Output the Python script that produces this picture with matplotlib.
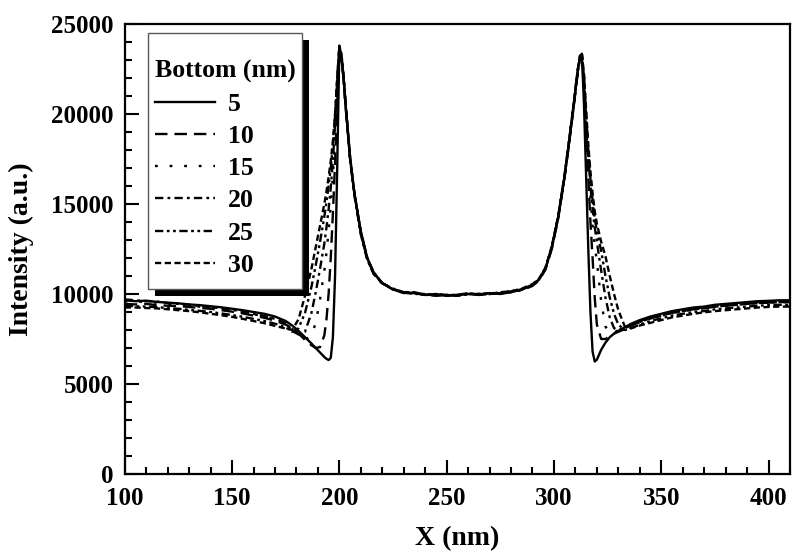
import matplotlib
matplotlib.use('Agg')
import matplotlib.pyplot as plt
from matplotlib.ticker import MultipleLocator
from matplotlib.patches import Rectangle

plt.rcParams['font.family'] = ['Liberation Serif', 'DejaVu Serif']
plt.rcParams['font.weight'] = 'bold'
plt.rcParams['axes.labelweight'] = 'bold'
plt.rcParams['lines.scale_dashes'] = False

# scan position (nm), shared by all profiles
x = [100, 105, 110, 115, 120, 125, 130, 135, 140, 145, 150, 155, 160, 165, 170, 175,
     178, 181, 184, 187, 189, 191, 193,
     194, 195, 196, 197, 198, 199, 200, 201, 202, 203,
     205, 207, 210, 213, 216, 220,
     225, 230, 235, 240, 245, 250, 255, 260, 265, 270, 275, 280, 285, 290,
     293, 296, 299, 302, 305, 307, 309, 311,
     312, 313, 314, 315, 316, 317, 318, 319, 320,
     322, 324, 326, 328, 330, 333, 336, 340,
     345, 350, 355, 360, 365, 370, 375, 380, 385, 390, 395, 400, 405, 410]

# intensity profiles for each bottom width
b5 = [9650, 9600, 9630, 9560, 9520, 9480, 9420, 9380, 9320, 9260, 9180, 9100, 9000, 8900, 8750, 8500,
      8250, 7950, 7600, 7250, 7000, 6750, 6500,
      6400, 6330, 6450, 7600, 11000, 17000, 23600, 23000, 22000, 20400,
      17600, 15600, 13500, 12000, 11200, 10600,
      10250, 10100, 10050, 9950, 10000, 9900, 9950, 10000, 9950, 10050, 10000, 10100, 10250, 10500,
      10800, 11400, 12600, 14300, 16600, 18400, 20300, 22300,
      23100, 23350, 20500, 16500, 12500, 9000, 6800, 6250, 6350,
      6900, 7300, 7600, 7800, 7950, 8150, 8350, 8550,
      8750, 8900, 9050, 9150, 9250, 9300, 9400, 9450, 9500, 9550, 9600, 9620, 9650, 9650]
b10 = [9450, 9420, 9450, 9380, 9350, 9330, 9280, 9220, 9180, 9100, 9020, 8920, 8800, 8680, 8520, 8300,
       8100, 7800, 7450, 7150, 7000, 7050, 7700,
       8600, 10000, 12000, 14500, 17300, 20500, 23600, 23100, 21900, 20300,
       17500, 15600, 13400, 11950, 11150, 10600,
       10300, 10050, 10100, 9950, 9900, 9950, 9900, 10050, 9950, 10000, 10050, 10150, 10200, 10450,
       10750, 11350, 12500, 14200, 16500, 18300, 20200, 22200,
       23000, 23300, 21500, 19000, 16500, 14000, 12000, 9800, 8300,
       7500, 7500, 7650, 7800, 7900, 8050, 8250, 8450,
       8650, 8800, 8950, 9050, 9150, 9200, 9300, 9350, 9400, 9450, 9500, 9520, 9550, 9550]
b15 = [9600, 9580, 9560, 9520, 9450, 9430, 9350, 9300, 9250, 9180, 9080, 8980, 8880, 8750, 8600, 8350,
       8050, 7750, 7450, 7700, 8400, 9700, 11300,
       12300, 13500, 14900, 16600, 18800, 21500, 23800, 23200, 21900, 20300,
       17600, 15500, 13400, 11900, 11150, 10550,
       10250, 10150, 10000, 10000, 9950, 9900, 10000, 9950, 10000, 10000, 10050, 10100, 10250, 10500,
       10800, 11450, 12600, 14300, 16600, 18500, 20400, 22400,
       23200, 23350, 21800, 19500, 17300, 15400, 13800, 12700, 11800,
       9600, 8200, 7800, 7850, 8000, 8150, 8300, 8500,
       8700, 8850, 9000, 9100, 9200, 9250, 9350, 9400, 9450, 9500, 9550, 9570, 9600, 9600]
b20 = [9700, 9650, 9600, 9580, 9500, 9450, 9400, 9330, 9280, 9200, 9120, 9020, 8900, 8780, 8620, 8400,
       7950, 7750, 7900, 8950, 10100, 11400, 12800,
       13700, 14700, 15900, 17400, 19400, 21800, 23700, 23300, 22000, 20400,
       17500, 15500, 13300, 11900, 11100, 10600,
       10250, 10100, 10050, 9950, 10000, 9950, 9950, 10050, 9950, 10000, 10050, 10100, 10250, 10500,
       10800, 11400, 12550, 14250, 16550, 18400, 20300, 22300,
       23100, 23300, 22000, 19800, 17700, 16000, 14700, 13700, 12900,
       11300, 9800, 8700, 8100, 8000, 8100, 8250, 8450,
       8650, 8800, 8950, 9050, 9150, 9200, 9300, 9350, 9400, 9450, 9500, 9520, 9550, 9550]
b25 = [9350, 9320, 9300, 9270, 9220, 9180, 9120, 9060, 9000, 8920, 8830, 8730, 8620, 8500, 8350, 8150,
       7900, 8100, 8950, 10400, 11600, 12900, 14300,
       15100, 16000, 17000, 18300, 19900, 22000, 23700, 23300, 22000, 20400,
       17500, 15600, 13400, 12000, 11200, 10600,
       10300, 10100, 10000, 10000, 9950, 9950, 9900, 10000, 10000, 10000, 10100, 10150, 10250, 10500,
       10800, 11400, 12600, 14300, 16600, 18400, 20300, 22300,
       23100, 23300, 22100, 20000, 18000, 16400, 15200, 14200, 13500,
       12400, 11000, 9800, 8900, 8300, 8000, 8100, 8300,
       8500, 8650, 8800, 8900, 9000, 9050, 9150, 9200, 9250, 9300, 9350, 9380, 9400, 9400]
b30 = [9250, 9250, 9220, 9200, 9150, 9100, 9050, 8980, 8900, 8820, 8730, 8620, 8500, 8380, 8230, 8080,
       8000, 8600, 9900, 11400, 12600, 13800, 15000,
       15700, 16500, 17400, 18500, 20000, 22000, 23800, 23300, 22000, 20400,
       17600, 15600, 13400, 12000, 11150, 10600,
       10250, 10050, 10050, 9950, 9950, 9900, 9950, 10000, 10000, 10050, 10050, 10150, 10300, 10550,
       10850, 11450, 12650, 14350, 16650, 18500, 20400, 22400,
       23200, 23400, 22200, 20200, 18300, 16800, 15600, 14600, 13900,
       12900, 12100, 11000, 10000, 9100, 8200, 8100, 8250,
       8400, 8550, 8700, 8800, 8900, 8980, 9050, 9100, 9150, 9200, 9250, 9280, 9300, 9300]

labels = ['5', '10', '15', '20', '25', '30']
series = [b5, b10, b15, b20, b25, b30]
styles = ['-', (0, (9, 5)), (0, (2, 8.5)), (0, (6, 3, 2, 3)),
          (0, (6, 2.5, 2, 2.5, 2, 2.5)), (0, (4.5, 2.5))]

fig = plt.figure(figsize=(7.92, 5.54), dpi=100)
ax = fig.add_axes([0.1575, 0.1444, 0.84, 0.8123])

for y, lab, ls in zip(series, labels, styles):
    ax.plot(x, y, color='black', linestyle=ls, linewidth=1.7, label=lab)

ax.set_xlim(100, 410)
ax.set_ylim(0, 25000)
ax.xaxis.set_major_locator(MultipleLocator(50))
ax.xaxis.set_minor_locator(MultipleLocator(10))
ax.yaxis.set_major_locator(MultipleLocator(5000))
ax.yaxis.set_minor_locator(MultipleLocator(1000))
ax.tick_params(which='both', direction='in', width=1.5, labelsize=18)
ax.tick_params(which='major', length=10)
ax.tick_params(which='minor', length=5)
ax.tick_params(axis='y', pad=8)
ax.tick_params(axis='x', pad=9)
for s in ax.spines.values():
    s.set_linewidth(1.6)

ax.set_xlabel('X (nm)', fontsize=20, labelpad=12)
ax.set_ylabel('Intensity (a.u.)', fontsize=20, labelpad=12)

# legend without its own frame; the box and its shadow are drawn below
leg = ax.legend(title='Bottom (nm)', loc='upper left', bbox_to_anchor=(0.0455, 0.920),
                borderaxespad=0, borderpad=0, frameon=False, fontsize=18.5, title_fontsize=18.5,
                handlelength=2.35, handletextpad=0.5, labelspacing=0.36)
leg._legend_box.align = 'left'
leg.set_zorder(7)

fig.canvas.draw()
bb = leg.get_window_extent(fig.canvas.get_renderer())
inv = ax.transAxes.inverted()
(fx0, fy0), (fx1, fy1) = inv.transform([[bb.x0 - 7, bb.y0 - 12], [bb.x1 + 6, bb.y1 + 27]])
(sx0, sy0), (sx1, sy1) = inv.transform([[bb.x0, bb.y0 - 19], [bb.x1 + 13, bb.y1 + 20]])
ax.add_patch(Rectangle((sx0, sy0), sx1 - sx0, sy1 - sy0, transform=ax.transAxes,
                       facecolor='black', edgecolor='none', zorder=5.5, clip_on=False))
ax.add_patch(Rectangle((fx0, fy0), fx1 - fx0, fy1 - fy0, transform=ax.transAxes,
                       facecolor='white', edgecolor='0.35', linewidth=1.0,
                       zorder=6, clip_on=False))

fig.savefig('out.png', dpi=100)
